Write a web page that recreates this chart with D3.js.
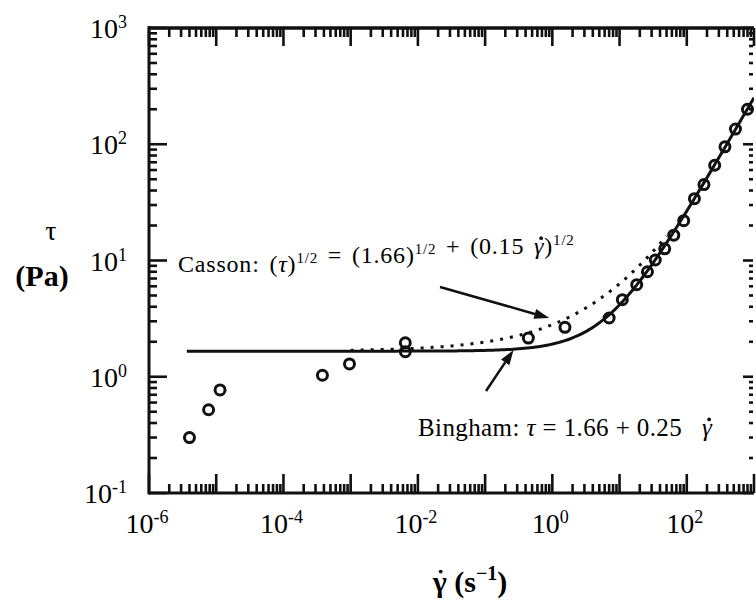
<!DOCTYPE html>
<html>
<head>
<meta charset="utf-8">
<script src="https://cdn.jsdelivr.net/npm/d3@7"></script>
<style>
  body { margin: 0; background: #fff; }
</style>
</head>
<body>
<div id="chart"></div>
<script>
// measured points (shear rate 1/s, shear stress Pa)
const shearRate = [4.0e-6, 7.7e-6, 1.14e-5, 3.8e-4, 9.6e-4, 6.5e-3, 6.5e-3, 0.44, 1.54,
  7.0, 11, 18, 26, 34, 47, 64, 90, 130, 180, 260, 370, 530, 800];
const stress = [0.30, 0.52, 0.77, 1.03, 1.29, 1.96, 1.64, 2.15, 2.66,
  3.2, 4.6, 6.2, 8.0, 10.1, 12.6, 16.5, 22, 34, 45, 66, 95, 135, 200];

// tick labels (powers of ten)
const xTickExps = [-6, -4, -2, 0, 2];
const yTickExps = [-1, 0, 1, 2, 3];

// fitted model constants, as printed on the chart
const yieldStress = 1.66;
const binghamVisc = 0.25;
const cassonVisc = 0.15;

const W = 756, H = 603;
const margin = { top: 28, right: 2, bottom: 110, left: 149 };
const serif = "'Liberation Serif', 'Times New Roman', serif";

const svg = d3.select("#chart").append("svg")
  .attr("width", W)
  .attr("height", H)
  .attr("font-family", serif);

const x = d3.scaleLog().domain([1e-6, 1e3]).range([margin.left, W - margin.right]);
const y = d3.scaleLog().domain([0.1, 1e3]).range([H - margin.bottom, margin.top]);

const x0 = x.range()[0], x1 = x.range()[1];
const y0 = y.range()[0], y1 = y.range()[1];

svg.append("defs").append("clipPath").attr("id", "plot")
  .append("rect").attr("x", x0).attr("y", y1).attr("width", x1 - x0).attr("height", y0 - y1);

// all tick values k*10^e
function logTicks(lo, hi) {
  const t = [];
  for (let e = lo; e < hi; e++) {
    for (let k = 1; k <= 9; k++) t.push({ v: k * Math.pow(10, e), major: k === 1 });
  }
  t.push({ v: Math.pow(10, hi), major: true });
  return t;
}
const xt = logTicks(-6, 3);
const yt = logTicks(-1, 3);

const ticks = svg.append("g").attr("stroke", "#111").attr("stroke-width", 2.6);

// bottom + top ticks
ticks.selectAll(".bt").data(xt).enter().append("line")
  .attr("x1", d => x(d.v)).attr("x2", d => x(d.v))
  .attr("y1", y0).attr("y2", d => y0 - (d.major ? 19 : 9));
ticks.selectAll(".tt").data(xt).enter().append("line")
  .attr("x1", d => x(d.v)).attr("x2", d => x(d.v))
  .attr("y1", y1).attr("y2", d => y1 + (d.major ? 18 : 9));
// left + right ticks
ticks.selectAll(".lt").data(yt).enter().append("line")
  .attr("y1", d => y(d.v)).attr("y2", d => y(d.v))
  .attr("x1", x0).attr("x2", d => x0 + (d.major ? 18 : 8));
ticks.selectAll(".rt").data(yt).enter().append("line")
  .attr("y1", d => y(d.v)).attr("y2", d => y(d.v))
  .attr("x1", x1 - 1).attr("x2", d => x1 - 1 - (d.major ? 10 : 4));

// frame (right side of the scan is faded, only ticks show)
const frame = svg.append("g").attr("stroke", "#111").attr("fill", "none");
frame.append("line").attr("x1", x0).attr("x2", x0).attr("y1", y1 - 2).attr("y2", y0 + 1.5).attr("stroke-width", 3);
frame.append("line").attr("x1", x0).attr("x2", x1).attr("y1", y0).attr("y2", y0).attr("stroke-width", 3);
frame.append("line").attr("x1", x0).attr("x2", x1).attr("y1", y1).attr("y2", y1).attr("stroke-width", 3.5);

// model curves
const gridLo = d3.range(0, 201).map(i => Math.pow(10, -5.437 + i * (3 + 5.437) / 200));
const gridC = d3.range(0, 101).map(i => Math.pow(10, -3 + i * 4.7 / 100));
const bingham = g => yieldStress + binghamVisc * g;
const casson = g => Math.pow(Math.sqrt(yieldStress) + Math.sqrt(cassonVisc * g), 2);

const line = d3.line().x(d => x(d[0])).y(d => y(d[1]));
const curves = svg.append("g").attr("clip-path", "url(#plot)").attr("fill", "none").attr("stroke", "#111");

curves.append("path")
  .attr("d", line(gridC.map(g => [g, casson(g)])))
  .attr("stroke-width", 3)
  .attr("stroke-dasharray", "3,7");
curves.append("path")
  .attr("d", line(gridLo.map(g => [g, bingham(g)])))
  .attr("stroke-width", 3);

// data circles
svg.append("g").attr("clip-path", "url(#plot)")
  .selectAll("circle").data(shearRate).enter().append("circle")
  .attr("cx", d => x(d))
  .attr("cy", (d, i) => y(stress[i]))
  .attr("r", 5)
  .attr("fill", "none")
  .attr("stroke", "#111")
  .attr("stroke-width", 3);

// tick labels
const xl = svg.append("g").attr("font-size", 28);
xTickExps.forEach(e => {
  const t = xl.append("text").attr("x", x(Math.pow(10, e)) - 2).attr("y", 533).attr("text-anchor", "middle");
  t.append("tspan").text("10");
  t.append("tspan").attr("dy", -10).attr("font-size", 18).text(e);
});
const yl = svg.append("g").attr("font-size", 28);
yTickExps.forEach(e => {
  const t = yl.append("text").attr("x", 127).attr("y", y(Math.pow(10, e)) + 10).attr("text-anchor", "end");
  t.append("tspan").text("10");
  t.append("tspan").attr("dy", -10).attr("font-size", 18).text(e);
});

// gamma with a dot on top: dot placed from the glyph's box
function dotOver(tspan, dx) {
  const b = tspan.node().getExtentOfChar(0);
  svg.append("circle")
    .attr("cx", b.x + b.width / 2 + (dx || 0))
    .attr("cy", b.y + b.height * 0.2)
    .attr("r", 1.9)
    .attr("fill", "#111");
}

// axis titles
svg.append("text").attr("x", 51).attr("y", 240).attr("text-anchor", "middle")
  .attr("font-size", 28).text("τ");
svg.append("text").attr("x", 42).attr("y", 286).attr("text-anchor", "middle")
  .attr("font-size", 30).attr("font-weight", "bold").text("(Pa)");
const xt2 = svg.append("text").attr("x", 470).attr("y", 592).attr("text-anchor", "middle")
  .attr("font-size", 30).attr("font-weight", "bold");
const gx = xt2.append("tspan").text("γ");
xt2.append("tspan").text(" (s");
xt2.append("tspan").attr("dy", -12).attr("font-size", 20).text("\u2212" + "1");
xt2.append("tspan").attr("dy", 12).text(")");
dotOver(gx, 1);

// annotations
function sup(t, s) {
  t.append("tspan").attr("dy", -9).attr("font-size", 15).text(s);
  t.append("tspan").attr("dy", 9).text("");
}
const cas = svg.append("text").attr("x", 178).attr("y", 272).attr("font-size", 24)
  .attr("word-spacing", 3).attr("letter-spacing", 0.8);
cas.append("tspan").text("Casson: (");
cas.append("tspan").attr("font-style", "italic").text("τ");
cas.append("tspan").text(")");
sup(cas, "1/2");
cas.append("tspan").text(" = (1.66)");
sup(cas, "1/2");
cas.append("tspan").text(" + (0.15 ");
const gc = cas.append("tspan").attr("font-style", "italic").text("γ");
cas.append("tspan").text(")");
sup(cas, "1/2");
dotOver(gc, 2);

const bin = svg.append("text").attr("x", 418).attr("y", 436).attr("font-size", 25)
  .attr("letter-spacing", 0.4);
bin.append("tspan").text("Bingham: ");
bin.append("tspan").attr("font-style", "italic").text("τ");
bin.append("tspan").text(" = 1.66 + 0.25");
const gb = bin.append("tspan").attr("x", 702).attr("font-style", "italic").text("γ");
dotOver(gb, 2);

// arrows
function arrow(xs, ys, xe, ye) {
  const a = Math.atan2(ye - ys, xe - xs), L = 15, w = 5;
  const bx = xe - L * Math.cos(a), by = ye - L * Math.sin(a);
  svg.append("line").attr("x1", xs).attr("y1", ys).attr("x2", bx).attr("y2", by)
    .attr("stroke", "#111").attr("stroke-width", 2.5);
  svg.append("path")
    .attr("d", `M${xe},${ye}L${bx - w * Math.sin(a)},${by + w * Math.cos(a)}L${bx + w * Math.sin(a)},${by - w * Math.cos(a)}Z`)
    .attr("fill", "#111");
}
arrow(440, 287, x(0.9), y(3.2));
arrow(486, 391, x(0.265), y(1.7));
</script>
</body>
</html>
